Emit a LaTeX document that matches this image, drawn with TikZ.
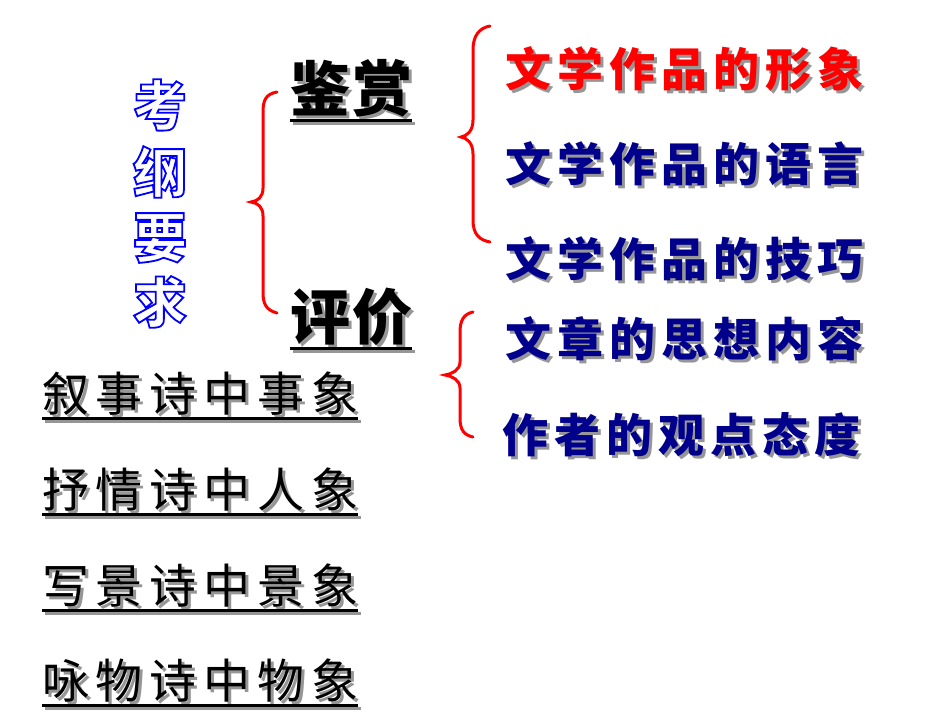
\documentclass[tikz,border=0pt]{standalone}
\usepackage{fontspec}
\newfontfamily\cjk{Noto Sans CJK SC}
\definecolor{navy}{RGB}{0,0,140}
\definecolor{shd}{RGB}{150,150,150}
\definecolor{bred}{RGB}{255,0,0}
\definecolor{kblue}{RGB}{0,0,255}
\newcommand\spreadtxt[2]{\def\mysp{\hspace{#1}}\spreadloop#2\relax\unskip}
\def\spreadloop#1{\ifx\relax#1\else#1\mysp\expandafter\spreadloop\fi}
\newcommand\shtext[4]{\makebox[0pt][l]{\hspace*{#2}\raisebox{-#2}{\textcolor{shd}{\spreadtxt{#3}{#4}}}}\textcolor{#1}{\spreadtxt{#3}{#4}}}
\newcommand\outlinetxt[1]{\textcolor{white}{\special{pdf:literal direct 2 Tr 1.8 w 0 0 1 RG}#1\special{pdf:literal direct 0 Tr 1 w}}}
\tikzset{
  rtxt/.style={inner sep=0pt, anchor=west, font=\cjk\bfseries\fontsize{46}{46}\selectfont},
  ltxt/.style={inner sep=0pt, anchor=west, font=\cjk\fontsize{47}{47}\selectfont},
  htxt/.style={inner sep=0pt, anchor=west, font=\cjk\bfseries\fontsize{60}{60}\selectfont},
  ktxt/.style={inner sep=0pt, font=\cjk\bfseries\fontsize{54}{54}\selectfont},
  brace/.style={draw=bred, line width=3pt, line cap=round},
  uline/.style={line width=2.5pt, black},
  ushadow/.style={line width=2.5pt, shd}
}
\newcommand\uline[1]{%
  \draw[ushadow] ([shift={(3,3)}]#1.south west) -- ([shift={(3,3)}]#1.south east);
  \draw[uline] (#1.south west) -- (#1.south east);}
\begin{document}
\begin{tikzpicture}[x=1pt,y=-1pt]
\useasboundingbox (0,0) rectangle (950,713);
% vertical title
\node[ktxt] (k1) at (160,105) {\outlinetxt{考}};
\node[ktxt] (k2) at (160,172) {\outlinetxt{纲}};
\node[ktxt] (k3) at (160,238) {\outlinetxt{要}};
\node[ktxt] (k4) at (160,302) {\outlinetxt{求}};
% brace 1
\draw[brace] (277,92) .. controls (266,94) and (263,100) .. (263,112) -- (263,188)
  .. controls (263,197) and (258,201) .. (251,202)
  .. controls (258,203) and (263,207) .. (263,216) -- (263,292)
  .. controls (263,304) and (266,310) .. (277,313);
% headers
\node[htxt] (jian) at (290,90) {\shtext{black}{3pt}{2pt}{鉴赏}};
\node[htxt] (ping) at (290,318) {\shtext{black}{3pt}{2pt}{评价}};
\uline{jian}
\uline{ping}
% brace 2
\draw[brace] (490,26) .. controls (479,28) and (473,36) .. (473,50) -- (473,120)
  .. controls (473,131) and (467,136) .. (461,137)
  .. controls (467,138) and (473,143) .. (473,154) -- (473,220)
  .. controls (473,234) and (479,240) .. (490,242);
% brace 3
\draw[brace] (473,312) .. controls (464,314) and (460,320) .. (460,332) -- (460,362)
  .. controls (460,370) and (452,374) .. (445,375)
  .. controls (452,376) and (460,380) .. (460,388) -- (460,418)
  .. controls (460,430) and (464,435) .. (473,437);
% right texts
\node[rtxt] (r1) at (505,70) {\shtext{bred}{3pt}{6pt}{文学作品的形象}};
\node[rtxt] (r2) at (505,165) {\shtext{navy}{3pt}{6pt}{文学作品的语言}};
\node[rtxt] (r3) at (505,260) {\shtext{navy}{3pt}{6pt}{文学作品的技巧}};
\node[rtxt] (r4) at (505,340) {\shtext{navy}{3pt}{6pt}{文章的思想内容}};
\node[rtxt] (r5) at (502,436) {\shtext{navy}{3pt}{6pt}{作者的观点态度}};
% left list
\node[ltxt] (l1) at (42,395) {\shtext{black}{3pt}{6.8pt}{叙事诗中事象}};
\node[ltxt] (l2) at (42,491) {\shtext{black}{3pt}{6.8pt}{抒情诗中人象}};
\node[ltxt] (l3) at (42,587) {\shtext{black}{3pt}{6.8pt}{写景诗中景象}};
\node[ltxt] (l4) at (42,682) {\shtext{black}{3pt}{6.8pt}{咏物诗中物象}};
\uline{l1}
\uline{l2}
\uline{l3}
\uline{l4}
\end{tikzpicture}
\end{document}
